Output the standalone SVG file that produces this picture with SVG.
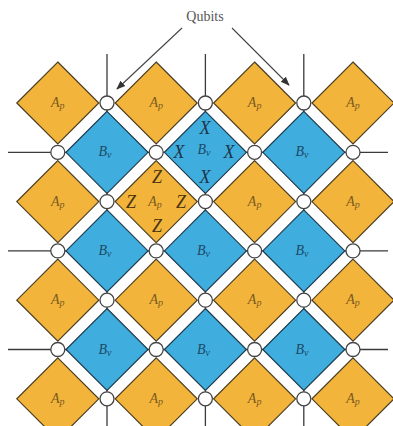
<svg xmlns="http://www.w3.org/2000/svg" xmlns:xlink="http://www.w3.org/1999/xlink" width="393" height="426" viewBox="0 0 393 426">
<style>
.ln{stroke:#3a3a3a;stroke-width:1.3;fill:none}
.ar{stroke:#444;stroke-width:1.1;fill:none}
.ap{fill:#F3B43C;stroke:#4a3e22;stroke-width:1.2}
.bv{fill:#3FAEDF;stroke:#1f3a4a;stroke-width:1.2}
.q{fill:#fff;stroke:#444;stroke-width:1.3}
.la{font-family:"Liberation Serif",serif;font-style:italic;font-size:14px;fill:#7a5a1c;text-anchor:middle}
.lb{font-family:"Liberation Serif",serif;font-style:italic;font-size:14px;fill:#1e4a66;text-anchor:middle}
.sub{font-size:10px}
.x{font-family:"Liberation Serif",serif;font-style:italic;font-size:18px;fill:#1f3548;text-anchor:middle}
.z{font-family:"Liberation Serif",serif;font-style:italic;font-size:18px;fill:#4a3510;text-anchor:middle}
.t{font-family:"Liberation Serif",serif;font-size:14px;fill:#555;text-anchor:middle}
</style>
<defs>
<path id="d" d="M0,-41 L41,0 L0,41 L-41,0Z"/>
<marker id="ah" viewBox="0 0 10 10" refX="9" refY="5" markerWidth="9" markerHeight="9" markerUnits="userSpaceOnUse" orient="auto">
<path d="M0,1 L10,5 L0,9 Z" fill="#333"/>
</marker>
</defs>
<g id="connectors">
<line class="ln" x1="107" y1="54" x2="107" y2="426"/>
<line class="ln" x1="205.4" y1="54" x2="205.4" y2="426"/>
<line class="ln" x1="303.8" y1="54" x2="303.8" y2="426"/>
<line class="ln" x1="8" y1="152.3" x2="388" y2="152.3"/>
<line class="ln" x1="8" y1="250.9" x2="388" y2="250.9"/>
<line class="ln" x1="8" y1="349.5" x2="388" y2="349.5"/>
<line class="ar" x1="182" y1="28" x2="117" y2="89" marker-end="url(#ah)"/>
<line class="ar" x1="232" y1="28" x2="289" y2="85" marker-end="url(#ah)"/>
</g>
<g id="label-qubits"><text class="t" x="205" y="21">Qubits</text></g>
<!-- A_p plaquettes -->
<g id="ap-0-0"><use href="#d" class="ap" x="57.8" y="103"/><text class="la" x="57.8" y="107">A<tspan class="sub" dy="2">p</tspan></text></g>
<g id="ap-0-1"><use href="#d" class="ap" x="156.2" y="103"/><text class="la" x="156.2" y="107">A<tspan class="sub" dy="2">p</tspan></text></g>
<g id="ap-0-2"><use href="#d" class="ap" x="254.6" y="103"/><text class="la" x="254.6" y="107">A<tspan class="sub" dy="2">p</tspan></text></g>
<g id="ap-0-3"><use href="#d" class="ap" x="353" y="103"/><text class="la" x="353" y="107">A<tspan class="sub" dy="2">p</tspan></text></g>
<g id="ap-1-0"><use href="#d" class="ap" x="57.8" y="201.6"/><text class="la" x="57.8" y="205.6">A<tspan class="sub" dy="2">p</tspan></text></g>
<g id="ap-1-1"><use href="#d" class="ap" x="156.2" y="201.6"/><text class="la" x="155" y="205.6">A<tspan class="sub" dy="2">p</tspan></text>
<text class="z" x="157" y="183">Z</text><text class="z" x="131" y="208">Z</text><text class="z" x="181" y="208">Z</text><text class="z" x="157" y="232">Z</text></g>
<g id="ap-1-2"><use href="#d" class="ap" x="254.6" y="201.6"/><text class="la" x="254.6" y="205.6">A<tspan class="sub" dy="2">p</tspan></text></g>
<g id="ap-1-3"><use href="#d" class="ap" x="353" y="201.6"/><text class="la" x="353" y="205.6">A<tspan class="sub" dy="2">p</tspan></text></g>
<g id="ap-2-0"><use href="#d" class="ap" x="57.8" y="300.2"/><text class="la" x="57.8" y="304.2">A<tspan class="sub" dy="2">p</tspan></text></g>
<g id="ap-2-1"><use href="#d" class="ap" x="156.2" y="300.2"/><text class="la" x="156.2" y="304.2">A<tspan class="sub" dy="2">p</tspan></text></g>
<g id="ap-2-2"><use href="#d" class="ap" x="254.6" y="300.2"/><text class="la" x="254.6" y="304.2">A<tspan class="sub" dy="2">p</tspan></text></g>
<g id="ap-2-3"><use href="#d" class="ap" x="353" y="300.2"/><text class="la" x="353" y="304.2">A<tspan class="sub" dy="2">p</tspan></text></g>
<g id="ap-3-0"><use href="#d" class="ap" x="57.8" y="398.8"/><text class="la" x="57.8" y="402.8">A<tspan class="sub" dy="2">p</tspan></text></g>
<g id="ap-3-1"><use href="#d" class="ap" x="156.2" y="398.8"/><text class="la" x="156.2" y="402.8">A<tspan class="sub" dy="2">p</tspan></text></g>
<g id="ap-3-2"><use href="#d" class="ap" x="254.6" y="398.8"/><text class="la" x="254.6" y="402.8">A<tspan class="sub" dy="2">p</tspan></text></g>
<g id="ap-3-3"><use href="#d" class="ap" x="353" y="398.8"/><text class="la" x="353" y="402.8">A<tspan class="sub" dy="2">p</tspan></text></g>
<!-- B_v vertices -->
<g id="bv-0-0"><use href="#d" class="bv" x="107" y="152.3"/><text class="lb" x="105" y="156.3">B<tspan class="sub" dy="2">v</tspan></text></g>
<g id="bv-0-1"><use href="#d" class="bv" x="205.4" y="152.3"/><text class="lb" x="204" y="154">B<tspan class="sub" dy="2">v</tspan></text>
<text class="x" x="205" y="134">X</text><text class="x" x="179" y="158">X</text><text class="x" x="229" y="158">X</text><text class="x" x="205" y="183">X</text></g>
<g id="bv-0-2"><use href="#d" class="bv" x="303.8" y="152.3"/><text class="lb" x="302" y="156.3">B<tspan class="sub" dy="2">v</tspan></text></g>
<g id="bv-1-0"><use href="#d" class="bv" x="107" y="250.9"/><text class="lb" x="105" y="254.9">B<tspan class="sub" dy="2">v</tspan></text></g>
<g id="bv-1-1"><use href="#d" class="bv" x="205.4" y="250.9"/><text class="lb" x="203.5" y="254.9">B<tspan class="sub" dy="2">v</tspan></text></g>
<g id="bv-1-2"><use href="#d" class="bv" x="303.8" y="250.9"/><text class="lb" x="302" y="254.9">B<tspan class="sub" dy="2">v</tspan></text></g>
<g id="bv-2-0"><use href="#d" class="bv" x="107" y="349.5"/><text class="lb" x="105" y="353.5">B<tspan class="sub" dy="2">v</tspan></text></g>
<g id="bv-2-1"><use href="#d" class="bv" x="205.4" y="349.5"/><text class="lb" x="203.5" y="353.5">B<tspan class="sub" dy="2">v</tspan></text></g>
<g id="bv-2-2"><use href="#d" class="bv" x="303.8" y="349.5"/><text class="lb" x="302" y="353.5">B<tspan class="sub" dy="2">v</tspan></text></g>
<!-- qubits -->
<g id="q-0-1"><circle class="q" cx="107" cy="103" r="7"/></g>
<g id="q-0-3"><circle class="q" cx="205.4" cy="103" r="7"/></g>
<g id="q-0-5"><circle class="q" cx="303.8" cy="103" r="7"/></g>
<g id="q-1-0"><circle class="q" cx="57.8" cy="152.3" r="7"/></g>
<g id="q-1-2"><circle class="q" cx="156.2" cy="152.3" r="7"/></g>
<g id="q-1-4"><circle class="q" cx="254.6" cy="152.3" r="7"/></g>
<g id="q-1-6"><circle class="q" cx="353" cy="152.3" r="7"/></g>
<g id="q-2-1"><circle class="q" cx="107" cy="201.6" r="7"/></g>
<g id="q-2-3"><circle class="q" cx="205.4" cy="201.6" r="7"/></g>
<g id="q-2-5"><circle class="q" cx="303.8" cy="201.6" r="7"/></g>
<g id="q-3-0"><circle class="q" cx="57.8" cy="250.9" r="7"/></g>
<g id="q-3-2"><circle class="q" cx="156.2" cy="250.9" r="7"/></g>
<g id="q-3-4"><circle class="q" cx="254.6" cy="250.9" r="7"/></g>
<g id="q-3-6"><circle class="q" cx="353" cy="250.9" r="7"/></g>
<g id="q-4-1"><circle class="q" cx="107" cy="300.2" r="7"/></g>
<g id="q-4-3"><circle class="q" cx="205.4" cy="300.2" r="7"/></g>
<g id="q-4-5"><circle class="q" cx="303.8" cy="300.2" r="7"/></g>
<g id="q-5-0"><circle class="q" cx="57.8" cy="349.5" r="7"/></g>
<g id="q-5-2"><circle class="q" cx="156.2" cy="349.5" r="7"/></g>
<g id="q-5-4"><circle class="q" cx="254.6" cy="349.5" r="7"/></g>
<g id="q-5-6"><circle class="q" cx="353" cy="349.5" r="7"/></g>
<g id="q-6-1"><circle class="q" cx="107" cy="398.8" r="7"/></g>
<g id="q-6-3"><circle class="q" cx="205.4" cy="398.8" r="7"/></g>
<g id="q-6-5"><circle class="q" cx="303.8" cy="398.8" r="7"/></g>
</svg>
